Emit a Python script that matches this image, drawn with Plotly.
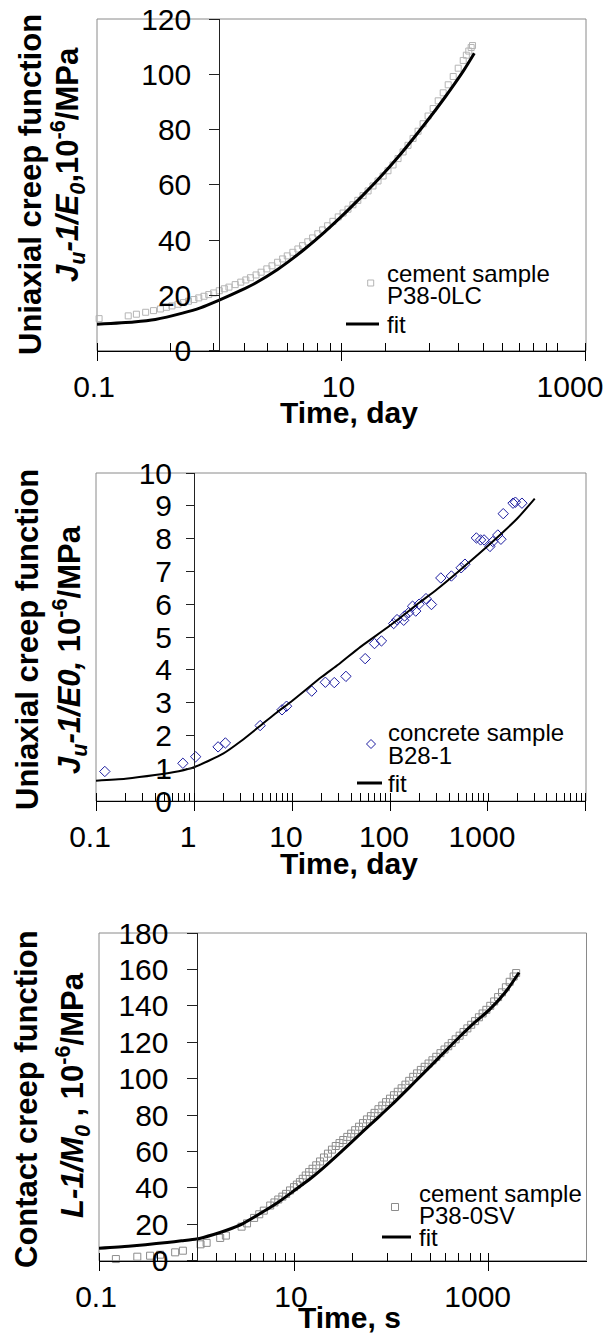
import math
import plotly.graph_objects as go

W, H = 606, 1337
FONT = "Arial, 'Liberation Sans', Helvetica, sans-serif"
NB = "\u00a0"

# ---------------- Panel 1: cement sample P38-0LC, uniaxial creep ----------------
p1_t = [0.104, 0.18, 0.21, 0.25, 0.29, 0.33, 0.37, 0.41, 0.46, 0.51, 0.56, 0.62, 0.68,
        0.75, 0.82, 0.9, 1.0, 1.1, 1.2, 1.35, 1.5, 1.65, 1.8, 2.0, 2.2, 2.45, 2.7, 3.0,
        3.3, 3.6, 4.0, 4.4, 4.8, 5.3, 5.8, 6.4, 7.0, 7.7, 8.5, 9.4, 10.3, 11.3, 12.4,
        13.6, 15.0, 16.5, 18.1, 19.9, 21.9, 24.0, 26.4, 29.0, 31.9, 35.0, 38.5, 42.3,
        46.5, 51.1, 56.2, 61.8, 67.9, 74.6, 82.0, 90.1, 99.0, 105.0, 110.0, 115.0, 118.0]
p1_j = [11.6, 12.6, 13.2, 13.9, 14.5, 15.1, 15.7, 16.2, 16.8, 17.4, 17.9, 18.5, 19.1,
        19.7, 20.3, 20.9, 21.7, 22.4, 23.0, 23.9, 24.8, 25.6, 26.4, 27.4, 28.4, 29.6,
        30.7, 32.0, 33.2, 34.3, 35.6, 36.8, 38.0, 39.4, 40.8, 42.3, 43.7, 45.2, 46.8,
        48.4, 49.8, 51.2, 52.8, 54.4, 56.1, 57.8, 59.6, 61.4, 63.2, 65.1, 67.2, 69.5,
        71.9, 74.3, 76.8, 79.4, 82.1, 84.9, 87.6, 90.4, 93.3, 96.2, 99.2, 102.2, 105.0,
        106.9, 108.4, 109.7, 110.4]
p1_fit_t = [0.1, 0.2, 0.3, 0.5, 0.7, 1.0, 1.5, 2.0, 3.0, 4.0, 5.0, 7.0, 10.0, 15.0,
            20.0, 30.0, 50.0, 70.0, 100.0, 122.0]
p1_fit_j = [9.6, 10.4, 11.3, 13.6, 15.5, 18.3, 21.8, 24.6, 29.4, 33.4, 36.8, 42.3, 48.6,
            56.3, 62.0, 70.8, 83.0, 91.6, 101.4, 107.6]
p1_xticks = [0.1, 10, 1000]
p1_xlabels = ["0.1", "10", ""]
p1_edge_tick = [1000]          # right-edge label, drawn on an overlay axis
p1_edge_label = ["1000"]
p1_xminor = [0.4, 0.9, 1.6, 2.5, 3.6, 4.9, 6.4, 8.1,
             23, 52, 91, 144, 206, 284, 370, 473, 582]

# ---------------- Panel 2: concrete sample B28-1, uniaxial creep ----------------
p2_t = [0.123, 0.77, 1.04, 1.76, 2.09, 4.73, 7.9, 8.8, 15.9, 21.9, 27.0, 35.5, 55.8,
        69.5, 81.8, 109, 118, 138, 141, 155, 170, 183, 198, 233, 265, 330, 423, 532,
        582, 761, 840, 912, 1047, 1118, 1259, 1355, 1430, 1800, 1905, 2220]
p2_j = [0.90, 1.15, 1.35, 1.65, 1.77, 2.30, 2.78, 2.89, 3.35, 3.62, 3.61, 3.80, 4.34,
        4.80, 4.88, 5.41, 5.53, 5.51, 5.64, 5.74, 5.94, 5.79, 6.00, 6.17, 5.99, 6.80,
        6.86, 7.11, 7.22, 8.02, 7.96, 7.96, 7.76, 7.91, 8.11, 7.98, 8.76, 9.08, 9.11,
        9.08]
p2_fit_t = [0.1, 0.2, 0.4, 0.7, 1, 2, 3, 5, 7, 10, 20, 30, 50, 100, 200, 300, 500,
            1000, 2000, 3000]
p2_fit_j = [0.62, 0.68, 0.79, 0.91, 1.03, 1.45, 1.82, 2.35, 2.70, 3.05, 3.78, 4.17,
            4.70, 5.35, 6.05, 6.45, 7.00, 7.78, 8.62, 9.22]
p2_xticks = [0.1, 1, 10, 100, 1000, 10000]
p2_xlabels = ["0.1", "1", "10", "100", "1000", ""]
p2_xminor = [m * d for d in (0.1, 1, 10, 100, 1000) for m in (2, 3, 4, 5, 6, 7, 8, 9)]

# ---------------- Panel 3: cement sample P38-0SV, contact creep ----------------
p3_t = [0.149, 0.247, 0.334, 0.423, 0.604, 0.725, 1.1, 1.27, 1.75, 2.0, 2.9, 3.3, 3.9,
        4.4, 4.9, 5.7, 6.3, 6.9, 7.6, 8.3, 9.1, 10, 10.7, 11.5, 12.3, 13.2, 14.3, 15.5,
        16.9, 18.5, 20.3, 22.3, 24.5, 26.8, 29.3, 32, 35.2, 38.6, 42.4, 46.5, 51, 56,
        61.5, 67, 73.5, 80.5, 88, 96.5, 106, 116, 127, 139, 152, 167, 183, 200, 219,
        240, 263, 288, 318, 350, 382, 415, 455, 500, 548, 600, 657, 720, 788, 860, 940,
        1030, 1130, 1240, 1360, 1490, 1630, 1790, 1900]
p3_l = [0.9, 2.2, 2.75, 3.3, 4.6, 5.5, 9.0, 9.8, 12.5, 13.8, 18.7, 20.5, 23.5, 25.5,
        27.5, 30.3, 32.0, 33.6, 35.2, 36.7, 38.6, 40.4, 41.8, 43.2, 45.0, 46.8, 48.7,
        50.5, 52.4, 54.5, 56.7, 58.8, 61.0, 63.0, 64.6, 66.3, 68.0, 69.8, 71.7, 73.6,
        75.6, 77.6, 79.4, 81.2, 83.2, 85.2, 87.1, 89.0, 90.9, 92.8, 94.7, 96.7, 98.8,
        101.0, 102.9, 104.8, 106.5, 108.3, 110.1, 112.0, 114.0, 116.0, 117.8, 119.6,
        121.6, 123.6, 125.6, 127.6, 129.6, 131.6, 133.7, 135.8, 137.8, 140.0, 142.4,
        144.8, 147.4, 150.2, 153.2, 156.1, 158.0]
p3_fit_t = [0.1, 0.2, 0.3, 0.5, 0.7, 1, 1.5, 2, 3, 5, 7, 10, 15, 20, 30, 50, 70, 100,
            150, 200, 300, 500, 700, 1000, 1500, 2035]
p3_fit_l = [6.8, 7.9, 8.8, 10.0, 10.9, 11.9, 14.4, 16.6, 20.4, 27.4, 32.4, 38.4, 45.4,
            51.0, 59.5, 70.6, 77.8, 85.5, 94.8, 101.5, 111.0, 123.0, 130.5, 137.6,
            148.0, 158.3]
p3_xticks = [0.1, 10, 1000]
p3_xlabels = ["0.1", "10", "1000" + NB * 2]
p3_xminor = [0.4, 0.9, 1.6, 2.5, 3.6, 4.9, 6.4, 8.1,
             40, 90, 160, 250, 360, 490, 640, 810]

# ---------------- text ----------------
p1_ytitle1 = "<b>Uniaxial creep function</b>"
p1_ytitle2 = "<b><i>J<sub>u</sub>-1/E<sub>0</sub></i>,10<sup>-6</sup>/MPa</b>"
p2_ytitle1 = "<b>Uniaxial creep function</b>"
p2_ytitle2 = "<b><i>J<sub>u</sub>-1/E0,</i> 10<sup>-6</sup>/MPa</b>"
p3_ytitle1 = "<b>Contact creep function</b>"
p3_ytitle2 = "<b><i>L-1/M<sub>0</sub></i> , 10<sup>-6</sup>/MPa</b>"


def px(x):
    return x / W


def py(y):
    return 1 - y / H


panels = [
    dict(sfx="", t=p1_t, v=p1_j, ft=p1_fit_t, fv=p1_fit_j, xr=(0.1, 1000), ymax=120,
         dtick=20, box=(97, 19, 586, 350.7), xticks=p1_xticks, xlabels=p1_xlabels,
         xminor=p1_xminor, sym="square-open", mcol="#b4b4b4", msize=6, lw=3,
         ylen=10, ystand=12, xshift=-3, xtitle="<b>Time, day</b>", xtoff=62,
         yt1=p1_ytitle1, yt1pos=(31, 185), yt2=p1_ytitle2, yt2pos=(68, 165),
         leg=["cement sample", "P38-0LC", "fit"], legy=(273.5, 296, 324),
         legmark=(370.7, 283), legline=(346, 379), legtx=385),
    dict(sfx="2", t=p2_t, v=p2_j, ft=p2_fit_t, fv=p2_fit_j, xr=(0.1, 10000), ymax=10,
         dtick=1, box=(96, 473, 586, 801), xticks=p2_xticks, xlabels=p2_xlabels,
         xminor=p2_xminor, sym="diamond-open", mcol="#1c1ca0", msize=8, lw=2,
         ylen=8, ystand=8, xshift=-6, xtitle="<b>Time, day</b>", xtoff=62,
         yt1=p2_ytitle1, yt1pos=(28, 640), yt2=p2_ytitle2, yt2pos=(70, 650),
         leg=["concrete sample", "B28-1", "fit"], legy=(732, 755.5, 783),
         legmark=(371, 744), legline=(357, 382), legtx=386),
    dict(sfx="3", t=p3_t, v=p3_l, ft=p3_fit_t, fv=p3_fit_l, xr=(0.1, 10000), ymax=180,
         dtick=20, box=(99, 933, 586.5, 1260.7), xticks=p3_xticks, xlabels=p3_xlabels,
         xminor=p3_xminor, sym="square-open", mcol="#8c8c8c", msize=7, lw=3,
         ylen=10, ystand=12, xshift=-3, xtitle="<b>Time, s</b>", xtoff=57,
         yt1=p3_ytitle1, yt1pos=(26, 1099), yt2=p3_ytitle2, yt2pos=(72, 1095),
         leg=["cement sample", "P38-0SV", "fit"], legy=(1193, 1215.5, 1237),
         legmark=(395, 1207), legline=(382, 411), legtx=417),
]

fig = go.Figure()
layout = dict(
    template="none",
    width=W, height=H, margin=dict(l=0, r=0, t=0, b=0, pad=0, autoexpand=False),
    paper_bgcolor="white", plot_bgcolor="white", showlegend=False,
    font=dict(family=FONT, color="black"),
)
shapes, annotations = [], []
EPS = 1e-4

for p in panels:
    s = p["sfx"]
    xa, ya = "x" + s, "y" + s
    x0, y0, x1, y1 = p["box"]
    lo, hi = math.log10(p["xr"][0]), math.log10(p["xr"][1])

    fig.add_trace(go.Scatter(
        x=p["t"], y=p["v"], mode="markers", xaxis=xa, yaxis=ya,
        marker=dict(symbol=p["sym"], size=p["msize"], color=p["mcol"],
                    line=dict(width=1, color=p["mcol"])), cliponaxis=False))
    fig.add_trace(go.Scatter(
        x=p["ft"], y=p["fv"], mode="lines", xaxis=xa, yaxis=ya,
        line=dict(color="black", width=p["lw"], shape="spline", smoothing=0.6)))

    # inward half of the major ticks (drawn as minor ticks just beside the majors)
    inner = [v * 1.003 for v in p["xticks"][:-1]] + [p["xticks"][-1] * 0.997]
    layout["xaxis" + s] = dict(
        type="log", range=[lo - EPS, hi + EPS], domain=[px(x0), px(x1)], anchor=ya,
        automargin=False,
        showline=True, linecolor="black", linewidth=1, showgrid=False, zeroline=False,
        tickmode="array", tickvals=p["xticks"], ticktext=p["xlabels"],
        ticks="outside", ticklen=9, tickwidth=1, tickcolor="black",
        ticklabeloverflow="allow", ticklabelshift=p["xshift"],
        tickfont=dict(size=30, family=FONT),
        minor=dict(tickmode="array", tickvals=p["xminor"] + inner, ticks="inside",
                   ticklen=8, tickwidth=1, tickcolor="black", showgrid=False),
    )
    ypos = (x0 + (0 - lo) / (hi - lo) * (x1 - x0)) / W
    layout["yaxis" + s] = dict(
        range=[0, p["ymax"]], domain=[py(y1), py(y0)], anchor="free", position=ypos,
        automargin=False,
        showline=True, linecolor="#222", linewidth=1, showgrid=False, zeroline=False,
        tickmode="linear", tick0=0, dtick=p["dtick"], ticks="outside",
        ticklen=p["ylen"], tickwidth=1, tickcolor="#222", ticklabeloverflow="allow",
        ticklabelstandoff=p["ystand"], tickfont=dict(size=30, family=FONT),
    )
    # frame of the plot area
    shapes.append(dict(type="rect", xref=xa + " domain", yref=ya + " domain",
                       x0=0, x1=1, y0=0, y1=1, line=dict(color="#8a8a8a", width=1),
                       layer="below"))
    # x title
    annotations.append(dict(text=p["xtitle"], x=px(349), y=py(y1 + p["xtoff"]),
                            xref="paper", yref="paper", showarrow=False,
                            xanchor="center", yanchor="middle",
                            font=dict(size=30, family=FONT)))
    # y titles (two lines)
    for txt, (cx, cy) in ((p["yt1"], p["yt1pos"]), (p["yt2"], p["yt2pos"])):
        annotations.append(dict(text=txt, x=px(cx), y=py(cy), xref="paper",
                                yref="paper", showarrow=False, textangle=-90,
                                xanchor="center", yanchor="middle",
                                font=dict(size=31, family=FONT)))
    # legend
    for txt, ly in zip(p["leg"], p["legy"]):
        annotations.append(dict(text=txt, x=px(p["legtx"]), y=py(ly), xref="paper",
                                yref="paper", showarrow=False, xanchor="left",
                                yanchor="middle", font=dict(size=24, family=FONT)))
    mx, my = p["legmark"]
    if p["sym"].startswith("diamond"):
        r = 4.5
        path = "M {a},{b} L {c},{d} L {e},{f} L {g},{h} Z".format(
            a=px(mx), b=py(my - r), c=px(mx + r), d=py(my), e=px(mx), f=py(my + r),
            g=px(mx - r), h=py(my))
        shapes.append(dict(type="path", xref="paper", yref="paper", path=path,
                           line=dict(color=p["mcol"], width=1)))
    else:
        r = p["msize"] / 2
        shapes.append(dict(type="rect", xref="paper", yref="paper",
                           x0=px(mx - r), x1=px(mx + r), y0=py(my + r), y1=py(my - r),
                           line=dict(color=p["mcol"], width=1)))
    la, lb = p["legline"]
    shapes.append(dict(type="line", xref="paper", yref="paper", x0=px(la), x1=px(lb),
                       y0=py(p["legy"][2]), y1=py(p["legy"][2]),
                       line=dict(color="black", width=3)))

# overlay axis carrying only the right-edge "1000" label of panel 1 (shifted inward,
# as in the original, so that it stays inside the picture)
fig.add_trace(go.Scatter(x=[], y=[], xaxis="x4", yaxis="y", showlegend=False))
layout["xaxis4"] = dict(
    type="log", range=layout["xaxis"]["range"], overlaying="x", anchor="y",
    side="bottom", automargin=False, showgrid=False, zeroline=False,
    showline=True, linecolor="rgba(0,0,0,0)", linewidth=1,
    tickmode="array", tickvals=p1_edge_tick, ticktext=p1_edge_label,
    ticks="outside", ticklen=9, tickcolor="rgba(0,0,0,0)",
    ticklabeloverflow="allow", ticklabelshift=-16,
    tickfont=dict(size=30, family=FONT),
)

layout["shapes"] = shapes
layout["annotations"] = annotations
fig.update_layout(**layout)
fig.write_html("out.html")
